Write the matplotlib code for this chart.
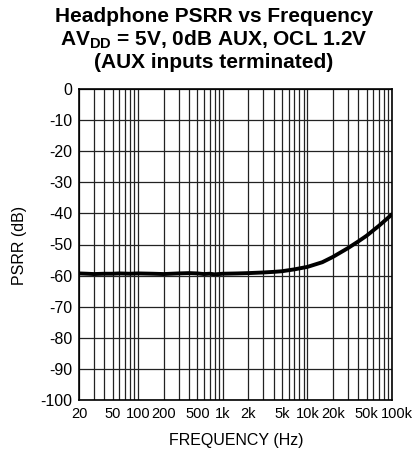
import numpy as np
import matplotlib
matplotlib.use("Agg")
import matplotlib.pyplot as plt
import matplotlib.transforms as mtransforms
from matplotlib.ticker import FixedLocator, NullFormatter

plt.rcParams['font.family'] = ['Liberation Sans', 'DejaVu Sans']
plt.rcParams['mathtext.fontset'] = 'custom'
plt.rcParams['mathtext.rm'] = 'Liberation Sans:bold'
plt.rcParams['mathtext.bf'] = 'Liberation Sans:bold'
plt.rcParams['axes.unicode_minus'] = False

# Data
freq = [20, 25, 30, 40, 50, 60, 80, 100, 150, 200, 300, 400, 500, 600, 700,
        800, 1000, 1500, 2000, 3000, 4000, 5000, 7000, 10000, 15000, 20000,
        30000, 40000, 50000, 70000, 100000]
psrr = [-59.3, -59.4, -59.5, -59.4, -59.4, -59.3, -59.4, -59.3, -59.4, -59.5,
        -59.3, -59.2, -59.3, -59.5, -59.4, -59.6, -59.4, -59.3, -59.2, -59.0,
        -58.8, -58.6, -58.0, -57.2, -55.7, -54.0, -51.2, -49.0, -47.2, -44.0,
        -40.3]

xticks = [20, 50, 100, 200, 500, 1000, 2000, 5000, 10000, 20000, 50000, 100000]
xticklabels = ["20", "50", "100", "200", "500", "1k", "2k", "5k", "10k",
               "20k", "50k", "100k"]
yticks = list(range(0, -101, -10))

fig = plt.figure(figsize=(4.13, 4.66), dpi=100)
ax = fig.add_axes([79 / 413, 1 - 400 / 466, 313 / 413, 311 / 466])

ax.semilogx(freq, psrr, color="black", lw=2.8, solid_capstyle="round", zorder=3)
ax.set_xlim(20, 100000)
ax.set_ylim(-100, 0)

# grid: every 1..9 x decade
minor = [m * 10 ** e for e in range(1, 6) for m in range(1, 10)
         if 20 <= m * 10 ** e <= 100000]
for f in minor:
    ax.axvline(f, color="#222222", lw=0.9, zorder=1)
for y in yticks:
    ax.axhline(y, color="#222222", lw=0.9, zorder=1)

ax.xaxis.set_major_locator(FixedLocator(xticks))
ax.xaxis.set_minor_formatter(NullFormatter())
ax.set_xticks(xticks)
ax.set_xticklabels(xticklabels)
ax.set_yticks(yticks)
ax.tick_params(which="both", length=0, pad=5)
ax.tick_params(axis="x", labelsize=10.5)
ax.tick_params(axis="y", labelsize=11.5)
# nudge the last label right so it clears "50k"
last = ax.get_xticklabels()[-1]
last.set_transform(last.get_transform() +
                   mtransforms.ScaledTranslation(5 / 100, 0, fig.dpi_scale_trans))
for s in ax.spines.values():
    s.set_linewidth(1.2)

fig.text(20 / 413, 1 - 245 / 466, "PSRR (dB)", rotation=90, ha="center",
         va="center", fontsize=11.5)
fig.text(236 / 413, 1 - 440 / 466, "FREQUENCY (Hz)", ha="center",
         va="center", fontsize=11.5)

tx = 214 / 413
fig.text(tx, 1 - 17 / 466, "Headphone PSRR vs Frequency", ha="center",
         va="center", fontsize=15, fontweight="bold")
fig.text(tx, 1 - 40 / 466, r"AV$_{\mathbf{DD}}$ = 5V, 0dB AUX, OCL 1.2V",
         ha="center", va="center", fontsize=15, fontweight="bold")
fig.text(tx, 1 - 62 / 466, "(AUX inputs terminated)", ha="center",
         va="center", fontsize=15, fontweight="bold")

fig.savefig("out.png", dpi=100)
